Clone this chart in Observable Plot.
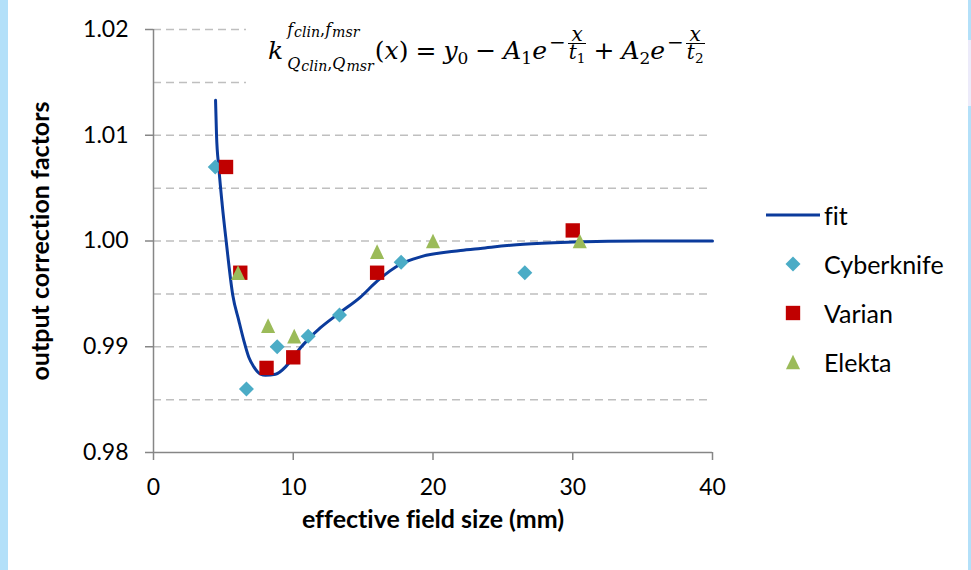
<!DOCTYPE html>
<html><head><meta charset="utf-8">
<script src="https://cdn.jsdelivr.net/npm/d3@7"></script>
<script src="https://cdn.jsdelivr.net/npm/@observablehq/plot@0.6"></script>
<style>
html,body{margin:0;padding:0;background:#fff;}
#wrap{position:relative;width:971px;height:570px;overflow:hidden;background:#fff;font-family:Lato,sans-serif;font-variant-ligatures:none;}
.strip{position:absolute;top:0;height:570px;background:#B3E0F9;}
#chart{position:absolute;left:0;top:0;}
#chart svg{font-variant-ligatures:none;}
#eq{position:absolute;left:246px;top:20px;width:480px;height:74px;background:#fff;font-family:"DejaVu Serif",serif;color:#000;}
#eq .row{position:absolute;left:22px;top:-17px;font-size:25px;line-height:30px;white-space:nowrap;}
.mi{font-style:italic;}
.ss{display:inline-block;position:relative;top:10px;font-size:16px;line-height:34px;margin-left:4px;margin-right:1px;}
.ss > span{display:block;}
.s2{font-size:0.88em;position:relative;top:2px;margin-left:1px;}
.mo{margin:0 7px;}
sub{font-size:0.68em;vertical-align:-0.3em;line-height:0;}
.ex{display:inline-block;position:relative;top:-10px;font-size:20px;line-height:normal;margin-left:2px;}
.fr{display:inline-block;vertical-align:middle;text-align:center;margin-left:2px;}
.fr > span{display:block;line-height:17px;padding:0 1px;}
.fr .den{border-top:1.3px solid #000;}
#legend{position:absolute;left:766px;top:190px;font-family:Lato,sans-serif;font-size:25px;color:#000;}
#legend .item{height:49px;display:flex;align-items:center;}
#legend svg{width:54px;height:20px;flex:none;}
#legend .lab{margin-left:4px;}
</style></head>
<body>
<div id="wrap">
  <div class="strip" style="left:0;width:8px;"></div>
  <div class="strip" style="left:968px;width:3px;"></div>
  <div class="strip" style="left:968px;width:3px;top:40px;height:66px;background:#ECEBFA;"></div>
  <div id="chart"></div>
  <div id="eq"><span class="row"><span class="mi">k</span><span class="ss"><span class="sup"><span class="mi">f</span><span class="mi s2">clin</span>,<span class="mi">f</span><span class="mi s2">msr</span></span><span class="sub"><span class="mi">Q</span><span class="mi s2">clin</span>,<span class="mi">Q</span><span class="mi s2">msr</span></span></span>(<span class="mi">x</span>)<span class="mo">=</span><span class="mi">y</span><sub>0</sub><span class="mo">−</span><span class="mi">A</span><sub>1</sub><span class="mi">e</span><span class="ex">−<span class="fr"><span class="num mi">x</span><span class="den"><span class="mi">t</span><sub>1</sub></span></span></span><span class="mo">+</span><span class="mi">A</span><sub>2</sub><span class="mi">e</span><span class="ex">−<span class="fr"><span class="num mi">x</span><span class="den"><span class="mi">t</span><sub>2</sub></span></span></span></span></div>
  <div id="legend"></div>
</div>
<script>
// ---- data ----
const xTicks = [0, 10, 20, 30, 40];
const xTickLabels = ["0", "10", "20", "30", "40"];
const yTicks = [0.98, 0.99, 1.00, 1.01, 1.02];
const yTickLabels = ["0.98", "0.99", "1.00", "1.01", "1.02"];
const gridY = [0.985, 0.99, 0.995, 1.00, 1.005, 1.01, 1.015, 1.02];

const cyberX = [4.42, 6.65, 8.85, 11.07, 13.31, 17.72, 26.57];
const cyberY = [1.007, 0.986, 0.990, 0.991, 0.993, 0.998, 0.997];
const varianX = [5.19, 6.21, 8.09, 10.0, 16.0, 30.0];
const varianY = [1.007, 0.997, 0.988, 0.989, 0.997, 1.001];
const elektaX = [6.05, 8.2, 10.07, 16.0, 20.0, 30.5];
const elektaY = [0.997, 0.992, 0.991, 0.999, 1.000, 1.000];

const fitX = [4.44, 4.51, 4.67, 4.92, 5.20, 5.67, 6.10, 6.46, 6.82, 7.18, 7.66, 8.01, 8.73, 9.45, 10.0, 10.52, 11.07, 11.95, 13.31, 14.81, 16.0, 17.67, 19.1, 21.97, 23.4, 26.48, 30.05, 35, 40];
const fitY = [1.0133, 1.0100, 1.0070, 1.0034, 1.0000, 0.9949, 0.9925, 0.9906, 0.9890, 0.9881, 0.9874, 0.9873, 0.9874, 0.9881, 0.9890, 0.9899, 0.9907, 0.9918, 0.9932, 0.9947, 0.9962, 0.9978, 0.9985, 0.9991, 0.9993, 0.9997, 0.9999, 1.0000, 1.0000];

const seriesNames = ["fit", "Cyberknife", "Varian", "Elekta"];
const colors = {fit: "#0B3B9C", Cyberknife: "#4BACC6", Varian: "#C00000", Elekta: "#9BBB59"};
const xTitle = "effective field size (mm)";
const yTitle = "output correction factors";

// ---- build ----
const zip = (xs, ys) => xs.map((x, i) => ({x, y: ys[i]}));
const fitData = zip(fitX, fitY);
const cyber = zip(cyberX, cyberY);
const varian = zip(varianX, varianY);
const elekta = zip(elektaX, elektaY);

const triangleSym = {
  draw(ctx, size) {
    const h = Math.sqrt(size);
    ctx.moveTo(0, -h / 2);
    ctx.lineTo(h * 0.48, h / 2);
    ctx.lineTo(-h * 0.48, h / 2);
    ctx.closePath();
  }
};
const symbols = {Cyberknife: "diamond2", Varian: "square", Elekta: triangleSym};
const radii = {Cyberknife: 6.76, Varian: 8.1, Elekta: 8.3};
const d3Symbols = {Cyberknife: d3.symbolDiamond2, Varian: d3.symbolSquare, Elekta: triangleSym};

const axisGray = "#868686";

const chart = Plot.plot({
  width: 971,
  height: 570,
  marginLeft: 153,
  marginRight: 259,
  marginTop: 29,
  marginBottom: 118,
  style: {fontFamily: "Lato, sans-serif", fontSize: "23px", color: "#000", background: "transparent", overflow: "visible"},
  x: {domain: [0, 40]},
  y: {domain: [0.98, 1.02]},
  marks: [
    Plot.ruleY(gridY, {stroke: "#BFBFBF", strokeWidth: 1.5, strokeDasharray: "8,5"}),
    Plot.ruleX([0], {stroke: axisGray, strokeWidth: 1.5}),
    Plot.ruleY([0.98], {stroke: axisGray, strokeWidth: 1.5}),
    Plot.axisY(yTicks, {tickSize: 8, tickPadding: 17, stroke: axisGray, strokeWidth: 1.5, tickFormat: d => yTickLabels[yTicks.indexOf(d)], label: null}),
    Plot.axisX(xTicks, {tickSize: 8, tickPadding: 18, stroke: axisGray, strokeWidth: 1.5, tickFormat: d => xTickLabels[xTicks.indexOf(d)], label: null}),
    Plot.line(fitData, {x: "x", y: "y", stroke: colors.fit, strokeWidth: 3, curve: "monotone-x"}),
    Plot.dot(cyber, {x: "x", y: "y", symbol: symbols.Cyberknife, r: radii.Cyberknife, fill: colors.Cyberknife, stroke: "none"}),
    Plot.dot(varian, {x: "x", y: "y", symbol: symbols.Varian, r: radii.Varian, fill: colors.Varian, stroke: "none"}),
    Plot.dot(elekta, {x: "x", y: "y", symbol: symbols.Elekta, r: radii.Elekta, fill: colors.Elekta, stroke: "none"}),
    Plot.text([xTitle], {text: d => d, frameAnchor: "bottom", textAnchor: "middle", dy: 75, fontSize: 25, fontWeight: "bold", fill: "#000"}),
    Plot.text([yTitle], {text: d => d, frameAnchor: "left", textAnchor: "middle", dx: -113, rotate: -90, fontSize: 25, fontWeight: "bold", fill: "#000"})
  ]
});
document.getElementById("chart").appendChild(chart);

// ---- legend ----
const legend = d3.select("#legend");
seriesNames.forEach(name => {
  const item = legend.append("div").attr("class", "item");
  const svg = item.append("svg").attr("viewBox", "0 0 54 20");
  if (name === "fit") {
    svg.append("line").attr("x1", 0).attr("x2", 54).attr("y1", 10).attr("y2", 10)
      .attr("stroke", colors.fit).attr("stroke-width", 3);
  } else {
    const size = Math.PI * radii[name] * radii[name];
    svg.append("path").attr("transform", "translate(27,10)")
      .attr("d", d3.symbol(d3Symbols[name], size)()).attr("fill", colors[name]);
  }
  item.append("span").attr("class", "lab").text(name);
});
</script>
</body></html>
